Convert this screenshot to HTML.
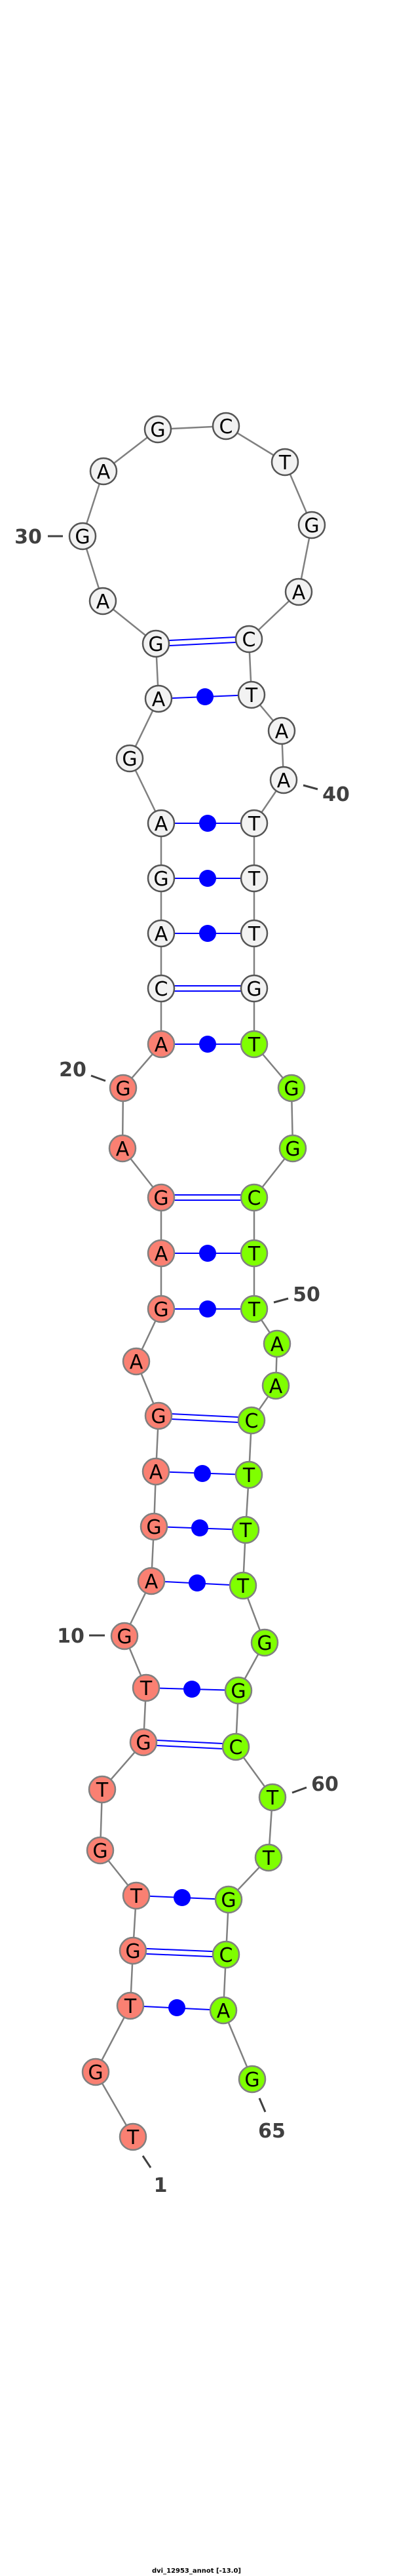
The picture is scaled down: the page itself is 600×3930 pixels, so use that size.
<!DOCTYPE html>
<html><head><meta charset="utf-8"><style>html,body{margin:0;padding:0;background:#fff}svg{display:block}</style></head><body>
<svg width="600" height="3930" viewBox="0 0 600 3930" xmlns="http://www.w3.org/2000/svg">
<polyline fill="none" stroke="#808080" stroke-width="2.5" points="203,3260 146,3161 199,3060 203,2976 208,2892 153,2823 156,2730 219,2658 223,2575 190,2496 231,2412 235,2329 238,2245 242,2160 208,2077 246,1997 246,1912 246,1827 187,1752 188,1660 246,1593 246,1508 246,1424 246,1340 246,1256 198,1157 242,1066 238,982 157,917 126,818 158,719 241,655 345,650 435,705 476,801 456,903 380,975 384,1060 430,1115 433,1190 388,1256 388,1340 388,1424 388,1508 388,1593 445,1660 447,1752 388,1827 388,1912 388,1997 423,2050 421,2114 384,2167 380,2250 375,2334 371,2419 404,2506 364,2579 360,2665 416,2742 410,2834 349,2898 345,2982 341,3067 385,3172"/>
<g stroke="#0000ff" stroke-width="2">
<line x1="223" y1="2575" x2="364" y2="2579"/>
<line x1="219" y1="2654" x2="360" y2="2661"/><line x1="219" y1="2662" x2="360" y2="2669"/>
<line x1="208" y1="2892" x2="349" y2="2898"/>
<line x1="203" y1="2972" x2="345" y2="2978"/><line x1="203" y1="2980" x2="345" y2="2986"/>
<line x1="199" y1="3060" x2="341" y2="3067"/>
<line x1="242" y1="2156" x2="384" y2="2163"/><line x1="242" y1="2164" x2="384" y2="2171"/>
<line x1="238" y1="2245" x2="380" y2="2250"/>
<line x1="235" y1="2329" x2="375" y2="2334"/>
<line x1="231" y1="2412" x2="371" y2="2419"/>
<line x1="246" y1="1823" x2="388" y2="1823"/><line x1="246" y1="1831" x2="388" y2="1831"/>
<line x1="246" y1="1912" x2="388" y2="1912"/>
<line x1="246" y1="1997" x2="388" y2="1997"/>
<line x1="246" y1="1593" x2="388" y2="1593"/>
<line x1="246" y1="1504" x2="388" y2="1504"/><line x1="246" y1="1512" x2="388" y2="1512"/>
<line x1="246" y1="1424" x2="388" y2="1424"/>
<line x1="246" y1="1340" x2="388" y2="1340"/>
<line x1="246" y1="1256" x2="388" y2="1256"/>
<line x1="238" y1="978" x2="380" y2="971"/><line x1="238" y1="986" x2="380" y2="979"/>
<line x1="242" y1="1066" x2="384" y2="1060"/>
</g>
<g fill="#0000ff">
<circle cx="293" cy="2577" r="13"/><circle cx="278" cy="2895" r="13"/><circle cx="270" cy="3063" r="13"/>
<circle cx="309" cy="2248" r="13"/><circle cx="305" cy="2331" r="13"/><circle cx="301" cy="2415" r="13"/>
<circle cx="317" cy="1912" r="13"/><circle cx="317" cy="1997" r="13"/><circle cx="317" cy="1593" r="13"/>
<circle cx="317" cy="1424" r="13"/><circle cx="317" cy="1340" r="13"/><circle cx="317" cy="1256" r="13"/>
<circle cx="313" cy="1063" r="13"/>
</g>
<g stroke-width="2.5" font-family="DejaVu Sans, sans-serif" font-size="30" text-anchor="middle">
<g fill="#fa8072" stroke="#808080">
<circle cx="203" cy="3260" r="20"/><circle cx="146" cy="3161" r="20"/><circle cx="199" cy="3060" r="20"/><circle cx="203" cy="2976" r="20"/><circle cx="208" cy="2892" r="20"/><circle cx="153" cy="2823" r="20"/><circle cx="156" cy="2730" r="20"/><circle cx="219" cy="2658" r="20"/><circle cx="223" cy="2575" r="20"/><circle cx="190" cy="2496" r="20"/><circle cx="231" cy="2412" r="20"/><circle cx="235" cy="2329" r="20"/><circle cx="238" cy="2245" r="20"/><circle cx="242" cy="2160" r="20"/><circle cx="208" cy="2077" r="20"/><circle cx="246" cy="1997" r="20"/><circle cx="246" cy="1912" r="20"/><circle cx="246" cy="1827" r="20"/><circle cx="187" cy="1752" r="20"/><circle cx="188" cy="1660" r="20"/><circle cx="246" cy="1593" r="20"/>
</g>
<g fill="#f2f2f2" stroke="#555">
<circle cx="246" cy="1508" r="20"/><circle cx="246" cy="1424" r="20"/><circle cx="246" cy="1340" r="20"/><circle cx="246" cy="1256" r="20"/><circle cx="198" cy="1157" r="20"/><circle cx="242" cy="1066" r="20"/><circle cx="238" cy="982" r="20"/><circle cx="157" cy="917" r="20"/><circle cx="126" cy="818" r="20"/><circle cx="158" cy="719" r="20"/><circle cx="241" cy="655" r="20"/><circle cx="345" cy="650" r="20"/><circle cx="435" cy="705" r="20"/><circle cx="476" cy="801" r="20"/><circle cx="456" cy="903" r="20"/><circle cx="380" cy="975" r="20"/><circle cx="384" cy="1060" r="20"/><circle cx="430" cy="1115" r="20"/><circle cx="433" cy="1190" r="20"/><circle cx="388" cy="1256" r="20"/><circle cx="388" cy="1340" r="20"/><circle cx="388" cy="1424" r="20"/><circle cx="388" cy="1508" r="20"/>
</g>
<g fill="#7fff00" stroke="#808080">
<circle cx="388" cy="1593" r="20"/><circle cx="445" cy="1660" r="20"/><circle cx="447" cy="1752" r="20"/><circle cx="388" cy="1827" r="20"/><circle cx="388" cy="1912" r="20"/><circle cx="388" cy="1997" r="20"/><circle cx="423" cy="2050" r="20"/><circle cx="421" cy="2114" r="20"/><circle cx="384" cy="2167" r="20"/><circle cx="380" cy="2250" r="20"/><circle cx="375" cy="2334" r="20"/><circle cx="371" cy="2419" r="20"/><circle cx="404" cy="2506" r="20"/><circle cx="364" cy="2579" r="20"/><circle cx="360" cy="2665" r="20"/><circle cx="416" cy="2742" r="20"/><circle cx="410" cy="2834" r="20"/><circle cx="349" cy="2898" r="20"/><circle cx="345" cy="2982" r="20"/><circle cx="341" cy="3067" r="20"/><circle cx="385" cy="3172" r="20"/>
</g>
<g fill="#000" stroke="none">
<text x="203" y="3271">T</text><text x="146" y="3172">G</text><text x="199" y="3071">T</text><text x="203" y="2987">G</text><text x="208" y="2903">T</text><text x="153" y="2834">G</text><text x="156" y="2741">T</text><text x="219" y="2669">G</text><text x="223" y="2586">T</text><text x="190" y="2507">G</text><text x="231" y="2423">A</text><text x="235" y="2340">G</text><text x="238" y="2256">A</text><text x="242" y="2171">G</text><text x="208" y="2088">A</text><text x="246" y="2008">G</text><text x="246" y="1923">A</text><text x="246" y="1838">G</text><text x="187" y="1763">A</text><text x="188" y="1671">G</text><text x="246" y="1604">A</text>
<text x="246" y="1519">C</text><text x="246" y="1435">A</text><text x="246" y="1351">G</text><text x="246" y="1267">A</text><text x="198" y="1168">G</text><text x="242" y="1077">A</text><text x="238" y="993">G</text><text x="157" y="928">A</text><text x="126" y="829">G</text><text x="158" y="730">A</text><text x="241" y="666">G</text><text x="345" y="661">C</text><text x="435" y="716">T</text><text x="476" y="812">G</text><text x="456" y="914">A</text><text x="380" y="986">C</text><text x="384" y="1071">T</text><text x="430" y="1126">A</text><text x="433" y="1201">A</text><text x="388" y="1267">T</text><text x="388" y="1351">T</text><text x="388" y="1435">T</text><text x="388" y="1519">G</text>
<text x="388" y="1604">T</text><text x="445" y="1671">G</text><text x="447" y="1763">G</text><text x="388" y="1838">C</text><text x="388" y="1923">T</text><text x="388" y="2008">T</text><text x="423" y="2061">A</text><text x="421" y="2125">A</text><text x="384" y="2178">C</text><text x="380" y="2261">T</text><text x="375" y="2345">T</text><text x="371" y="2430">T</text><text x="404" y="2517">G</text><text x="364" y="2590">G</text><text x="360" y="2676">C</text><text x="416" y="2753">T</text><text x="410" y="2845">T</text><text x="349" y="2909">G</text><text x="345" y="2993">C</text><text x="341" y="3078">A</text><text x="385" y="3183">G</text>
</g>
</g>
<g stroke="#404040" stroke-width="3">
<line x1="73" y1="818" x2="96" y2="818"/>
<line x1="463" y1="1198" x2="485" y2="1204"/>
<line x1="139" y1="1641" x2="161" y2="1649"/>
<line x1="418" y1="1987" x2="440" y2="1981"/>
<line x1="136" y1="2495" x2="160" y2="2495"/>
<line x1="446" y1="2735" x2="468" y2="2727"/>
<line x1="396" y1="3201" x2="405" y2="3222"/>
<line x1="218" y1="3289" x2="230" y2="3307"/>
</g>
<g fill="#404040" font-family="DejaVu Sans, sans-serif" font-size="30" font-weight="bold" text-anchor="middle">
<text x="43" y="829">30</text>
<text x="513" y="1222">40</text>
<text x="111" y="1642">20</text>
<text x="468" y="1985">50</text>
<text x="108" y="2506">10</text>
<text x="496" y="2732">60</text>
<text x="415" y="3261">65</text>
<text x="245" y="3344">1</text>
</g>
<text x="300" y="3925" font-family="DejaVu Sans, sans-serif" font-size="10" font-weight="bold" text-anchor="middle" fill="#000">dvi_12953_annot [-13.0]</text>
</svg>
</body></html>
